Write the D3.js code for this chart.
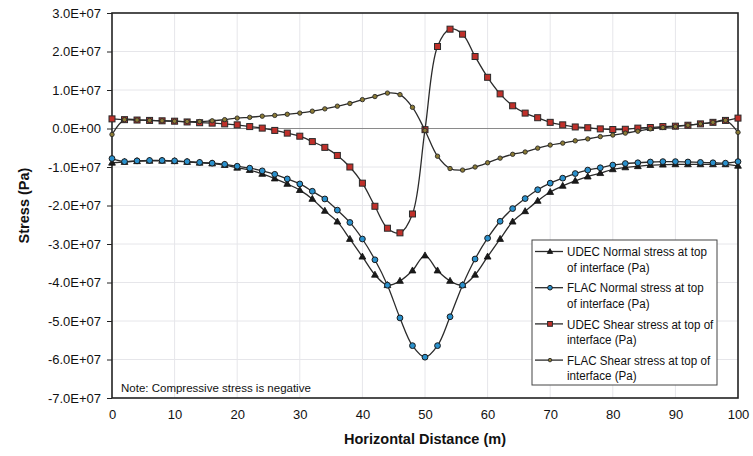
<!DOCTYPE html>
<html>
<head>
<meta charset="utf-8">
<script src="https://cdn.jsdelivr.net/npm/d3@7"></script>
<style>
  body { margin: 0; background: #fff; }
  svg { display: block; font-family: Arial, 'Liberation Sans', sans-serif; }
  .grid line { stroke: #e6e6ea; stroke-width: 1; }
  .axis path, .axis line { stroke: #222; }
  .axis text { fill: #111; font-size: 13px; }
</style>
</head>
<body>
<div id="chart"></div>
<script>
// horizontal distance (m)
const distance = [0, 2, 4, 6, 8, 10, 12, 14, 16, 18, 20, 22, 24, 26, 28, 30, 32, 34, 36, 38, 40,
  42, 44, 46, 48, 50, 52, 54, 56, 58, 60, 62, 64, 66, 68, 70, 72, 74, 76, 78, 80,
  82, 84, 86, 88, 90, 92, 94, 96, 98, 100];

// stresses in MPa (x1e6 Pa)
const udecNormal = [-8.9, -8.7, -8.5, -8.4, -8.4, -8.5, -8.7, -8.9, -9.1, -9.5, -10.2,
  -10.8, -11.8, -13.0, -14.4, -16.0, -18.3, -21.4, -24.2, -28.7, -33.3,
  -38.0, -40.7, -39.6, -36.9, -33.0, -36.9, -39.6, -40.7, -38.0, -33.3,
  -28.7, -24.2, -21.5, -18.8, -16.5, -14.9, -13.6, -12.5, -11.6, -10.6,
  -10.1, -9.8, -9.5, -9.4, -9.3, -9.3, -9.3, -9.3, -9.3, -9.7];
const flacNormal = [-7.8, -8.6, -8.4, -8.3, -8.3, -8.4, -8.6, -8.8, -9.0, -9.3, -9.8,
  -10.3, -11.0, -11.9, -13.1, -14.4, -16.3, -18.3, -21.2, -24.4, -28.7,
  -34.1, -40.7, -49.2, -56.4, -59.4, -56.4, -48.9, -40.7, -33.9, -28.5,
  -24.1, -20.8, -18.2, -15.9, -14.2, -12.9, -11.7, -10.8, -10.2, -9.5,
  -9.1, -8.9, -8.7, -8.6, -8.6, -8.7, -8.8, -8.9, -9.0, -8.6];
const udecShear = [2.5, 2.3, 2.2, 2.1, 2.0, 1.9, 1.7, 1.5, 1.4, 1.2, 0.95,
  0.5, 0.1, -0.5, -1.2, -2.0, -3.4, -4.9, -7.0, -10.0, -14.2,
  -20.2, -25.9, -27.1, -22.2, -0.3, 21.3, 25.8, 24.5, 18.7, 13.3,
  9.0, 5.9, 4.0, 2.8, 1.6, 0.95, 0.4, 0.2, -0.1, -0.26,
  -0.2, 0.1, 0.26, 0.5, 0.6, 0.85, 1.2, 1.6, 2.1, 2.7];
const flacShear = [-1.55, 2.3, 2.2, 2.1, 2.0, 1.9, 1.8, 1.8, 2.0, 2.3, 2.7,
  2.9, 3.2, 3.4, 3.7, 4.0, 4.5, 5.1, 5.8, 6.5, 7.5,
  8.3, 9.2, 8.8, 5.5, -0.5, -7.2, -10.4, -10.8, -10.0, -8.9,
  -7.7, -6.7, -6.1, -5.1, -4.3, -3.8, -3.2, -2.7, -2.1, -1.7,
  -1.2, -0.7, -0.1, 0.26, 0.5, 0.85, 1.2, 1.6, 2.1, -1.0];

const xTicks = [0, 10, 20, 30, 40, 50, 60, 70, 80, 90, 100];
const yTicks = [3e7, 2e7, 1e7, 0, -1e7, -2e7, -3e7, -4e7, -5e7, -6e7, -7e7];
const legends = [
  ['UDEC Normal stress at top', 'of interface (Pa)'],
  ['FLAC Normal stress at top', 'of interface (Pa)'],
  ['UDEC Shear stress at top of', 'interface (Pa)'],
  ['FLAC Shear stress at top of', 'interface (Pa)'],
];
const note = 'Note: Compressive stress is negative';

const PA = 1e6;
const W = 753, H = 456;
const margin = {top: 13, right: 15, bottom: 58, left: 112};
const width = W - margin.left - margin.right;
const height = H - margin.top - margin.bottom;

const x = d3.scaleLinear().domain([0, 100]).range([0, width]);
const y = d3.scaleLinear().domain([-7e7, 3e7]).range([height, 0]);

const svg = d3.select('#chart').append('svg')
  .attr('width', W)
  .attr('height', H)
  .append('g')
  .attr('transform', `translate(${margin.left},${margin.top})`);

/* grid */
const grid = svg.append('g').attr('class', 'grid');
grid.selectAll('.gx').data(xTicks.slice(1, -1)).enter().append('line')
  .attr('x1', d => x(d)).attr('x2', d => x(d))
  .attr('y1', 0).attr('y2', height);
grid.selectAll('.gy').data(yTicks.slice(1, -1)).enter().append('line')
  .attr('x1', 0).attr('x2', width)
  .attr('y1', d => y(d)).attr('y2', d => y(d));
svg.append('line')
  .attr('x1', 0).attr('x2', width)
  .attr('y1', y(0)).attr('y2', y(0))
  .style('stroke', '#8a8a8a').style('stroke-width', 1);

/* axes */
const sci = v => {
  if (v === 0) return '0.0E+00';
  const e = Math.floor(Math.log10(Math.abs(v)));
  return (v / Math.pow(10, e)).toFixed(1) + 'E+' + String(e).padStart(2, '0');
};
const yAxis = d3.axisLeft(y).tickValues(yTicks).tickSizeInner(5).tickSizeOuter(0)
  .tickPadding(6).tickFormat(sci);
const xAxis = d3.axisBottom(x).tickValues(xTicks).tickSize(0).tickPadding(12);

svg.append('g').attr('class', 'y axis').call(yAxis).select('.domain').remove();
svg.append('g').attr('class', 'x axis')
  .attr('transform', `translate(0,${height})`)
  .call(xAxis).select('.domain').remove();

svg.append('rect')
  .attr('width', width).attr('height', height)
  .style('fill', 'none').style('stroke', '#222').style('stroke-width', 1.6);

/* titles */
svg.append('text')
  .attr('x', width / 2).attr('y', height + 46)
  .style('text-anchor', 'middle').style('font-weight', 'bold').style('font-size', '14.5px')
  .style('fill', '#111')
  .text('Horizontal Distance (m)');
svg.append('text')
  .attr('transform', `translate(${-83},${height / 2}) rotate(-90)`)
  .style('text-anchor', 'middle').style('font-weight', 'bold').style('font-size', '14.5px')
  .style('fill', '#111')
  .text('Stress (Pa)');

/* series */
const series = [
  {vals: udecNormal, shape: 'tri', fill: '#1a1a1a'},
  {vals: flacNormal, shape: 'circle', fill: '#2a90cc'},
  {vals: udecShear, shape: 'square', fill: '#c0302a'},
  {vals: flacShear, shape: 'dot', fill: '#8c7b35'},
];

const line = d3.line()
  .x(d => x(d[0]))
  .y(d => y(d[1] * PA))
  .curve(d3.curveCatmullRom.alpha(0.5));

const marker = (g, s, k = 1) => {
  if (s.shape === 'tri') {
    g.append('path').attr('d', `M0,${-3.6 * k}L${3.4 * k},${2.4 * k}L${-3.4 * k},${2.4 * k}Z`)
      .style('fill', s.fill).style('stroke', '#111').style('stroke-width', 0.8);
  } else if (s.shape === 'circle') {
    g.append('circle').attr('r', 2.9 * k)
      .style('fill', s.fill).style('stroke', '#1a1a1a').style('stroke-width', 1);
  } else if (s.shape === 'square') {
    g.append('rect').attr('x', -3 * k).attr('y', -3 * k).attr('width', 6 * k).attr('height', 6 * k)
      .style('fill', s.fill).style('stroke', '#2a2a2a').style('stroke-width', 1);
  } else {
    g.append('circle').attr('r', 2.2 * k)
      .style('fill', s.fill).style('stroke', '#2a2a2a').style('stroke-width', 0.9);
  }
};

series.forEach(s => {
  const pts = distance.map((d, i) => [d, s.vals[i]]);
  svg.append('path')
    .attr('d', line(pts))
    .style('fill', 'none').style('stroke', '#2b2b2b').style('stroke-width', 1.3);
  pts.forEach(p => {
    const g = svg.append('g').attr('transform', `translate(${x(p[0])},${y(p[1] * PA)})`);
    marker(g, s);
  });
});

/* legend */
const lg = svg.append('g').attr('transform', `translate(${532 - margin.left},${240 - margin.top})`);
lg.append('rect').attr('width', 185).attr('height', 145)
  .style('fill', '#fff').style('stroke', '#444').style('stroke-width', 1);
series.forEach((s, i) => {
  const row = lg.append('g').attr('transform', `translate(0,${11.5 + i * 36.2})`);
  row.append('line').attr('x1', 3).attr('x2', 31).attr('y1', 0).attr('y2', 0)
    .style('stroke', '#2b2b2b').style('stroke-width', 1.3);
  marker(row.append('g').attr('transform', 'translate(18,0)'), s, 0.8);
  row.selectAll('text').data(legends[i]).enter().append('text')
    .attr('transform', (d, j) => `translate(35,${j * 15.3}) scale(0.86,1)`)
    .attr('dy', '0.35em')
    .style('font-size', '13.5px').style('fill', '#111')
    .text(d => d);
});

svg.append('text')
  .attr('x', 121 - margin.left).attr('y', 388 - margin.top).attr('dy', '0.35em')
  .style('font-size', '11.5px').style('fill', '#111')
  .text(note);
</script>
</body>
</html>
